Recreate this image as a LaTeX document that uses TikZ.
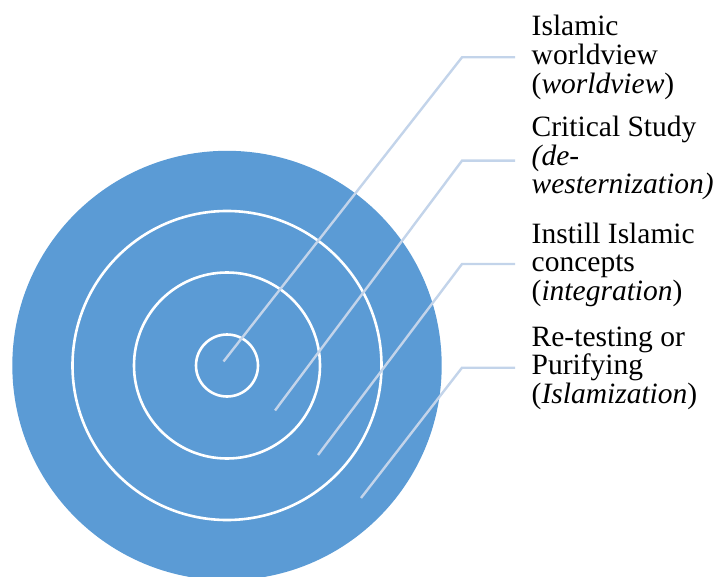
\documentclass[tikz,border=0pt]{standalone}
\usepackage{fontspec}
\setmainfont{Liberation Serif}
\definecolor{ringblue}{HTML}{5B9BD5}
\definecolor{leader}{HTML}{C3D4EA}
\begin{document}
\begin{tikzpicture}[x=1pt,y=-1pt,
  ring/.style={draw=white,line width=2.6pt},
  leadline/.style={draw=leader,line width=2.4pt},
  lbl/.style={anchor=base west,align=left,inner sep=0pt,font=\fontsize{29.5}{28.7}\selectfont}]
\useasboundingbox (0,0) rectangle (714,577);
% target
\fill[ringblue] (227,365.5) circle (214.7);
\draw[ring] (227,365.5) circle (154.5);
\draw[ring] (227,365.5) circle (93);
\draw[ring] (227,365.5) circle (31);
% leader points
\coordinate (p1) at (223.5,361.5);
\coordinate (p2) at (275,410.5);
\coordinate (p3) at (318,455);
\coordinate (p4) at (361,498);
\coordinate (k1) at (462,57.3);
\coordinate (k2) at (462,160.7);
\coordinate (k3) at (462,264);
\coordinate (k4) at (462,367.7);
\coordinate (e1) at (515,57.3);
\coordinate (e2) at (515,160.7);
\coordinate (e3) at (515,264);
\coordinate (e4) at (515,367.7);
\draw[leadline] (p1) -- (k1) -- (e1);
\draw[leadline] (p2) -- (k2) -- (e2);
\draw[leadline] (p3) -- (k3) -- (e3);
\draw[leadline] (p4) -- (k4) -- (e4);
% labels (anchored at the baseline of the last line)
\node[lbl] (t1) at (531.5,93.4) {Islamic\\worldview\\(\textit{worldview})};
\node[lbl] (t2) at (531.5,194) {Critical Study\\\textit{(de-}\\\textit{westernization)}};
\node[lbl] (t3) at (531.5,300.5) {Instill Islamic\\concepts\\(\textit{integration})};
\node[lbl] (t4) at (531.5,403.5) {Re-testing or\\Purifying\\(\textit{Islamization})};
\end{tikzpicture}
\end{document}
